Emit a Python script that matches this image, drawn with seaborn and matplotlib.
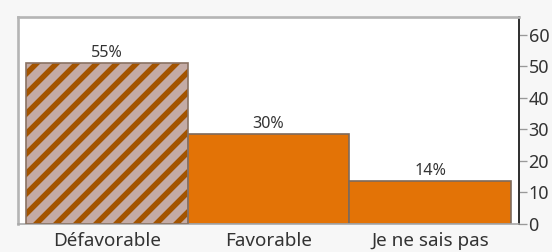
import matplotlib
matplotlib.use("Agg")
import matplotlib.pyplot as plt
from matplotlib.patches import Rectangle
import seaborn as sns
import pandas as pd

categories = ["Défavorable", "Favorable", "Je ne sais pas"]
values = [51.1, 28.6, 13.7]
bar_labels = ["55%", "30%", "14%"]
bar_colors = ["#c4aba5", "#e37306", "#e37306"]
y_ticks = [0, 10, 20, 30, 40, 50, 60]

sns.set_theme(style="white")
plt.rcParams["font.family"] = ["Noto Sans", "DejaVu Sans"]
plt.rcParams["hatch.linewidth"] = 3.3

fig = plt.figure(figsize=(4.6, 2.1), dpi=120, facecolor="#f7f7f7")
ax = fig.add_axes([18 / 552, 28 / 252, 501 / 552, 207 / 252])
ax.set_facecolor("white")

df = pd.DataFrame({"cat": categories, "val": values})
sns.barplot(data=df, x="cat", y="val", hue="cat", palette=bar_colors,
            width=1.0, edgecolor="#7d6a5c", linewidth=1.0, legend=False,
            saturation=1, ax=ax)

p0 = ax.patches[0]
p0.set_hatch("//")
p0.set_edgecolor("#a35400")
p0.set_linewidth(0)
ax.add_patch(Rectangle(p0.get_xy(), p0.get_width(), p0.get_height(),
                       fill=False, edgecolor="#8a7262", linewidth=1.0, zorder=3))

for p, lab in zip(ax.patches[:3], bar_labels):
    ax.annotate(lab, (p.get_x() + p.get_width() / 2, p.get_height()),
                xytext=(0, 1), textcoords="offset points",
                ha="center", va="bottom", fontsize=9.7, color="#333333")

ax.set_xlim(-0.55, 2.55)
ax.set_ylim(0, 65.7)
ax.set_xlabel("")
ax.set_ylabel("")
ax.yaxis.tick_right()
ax.set_yticks(y_ticks)
ax.tick_params(axis="y", right=True, length=4.5, width=0.8, color="#999999",
               labelsize=10.8, labelcolor="#333333", pad=1.2)
ax.tick_params(axis="x", bottom=False, labelsize=11.3, labelcolor="#333333", pad=-1.5)

for s in ["left", "top"]:
    ax.spines[s].set_color("#b5b5b5")
    ax.spines[s].set_linewidth(1.6)
ax.spines["bottom"].set_color("#a8a8a8")
ax.spines["bottom"].set_linewidth(1.0)
ax.spines["right"].set_color("#333333")
ax.spines["right"].set_linewidth(1.2)

fig.savefig("out.png", dpi=120, facecolor=fig.get_facecolor())
